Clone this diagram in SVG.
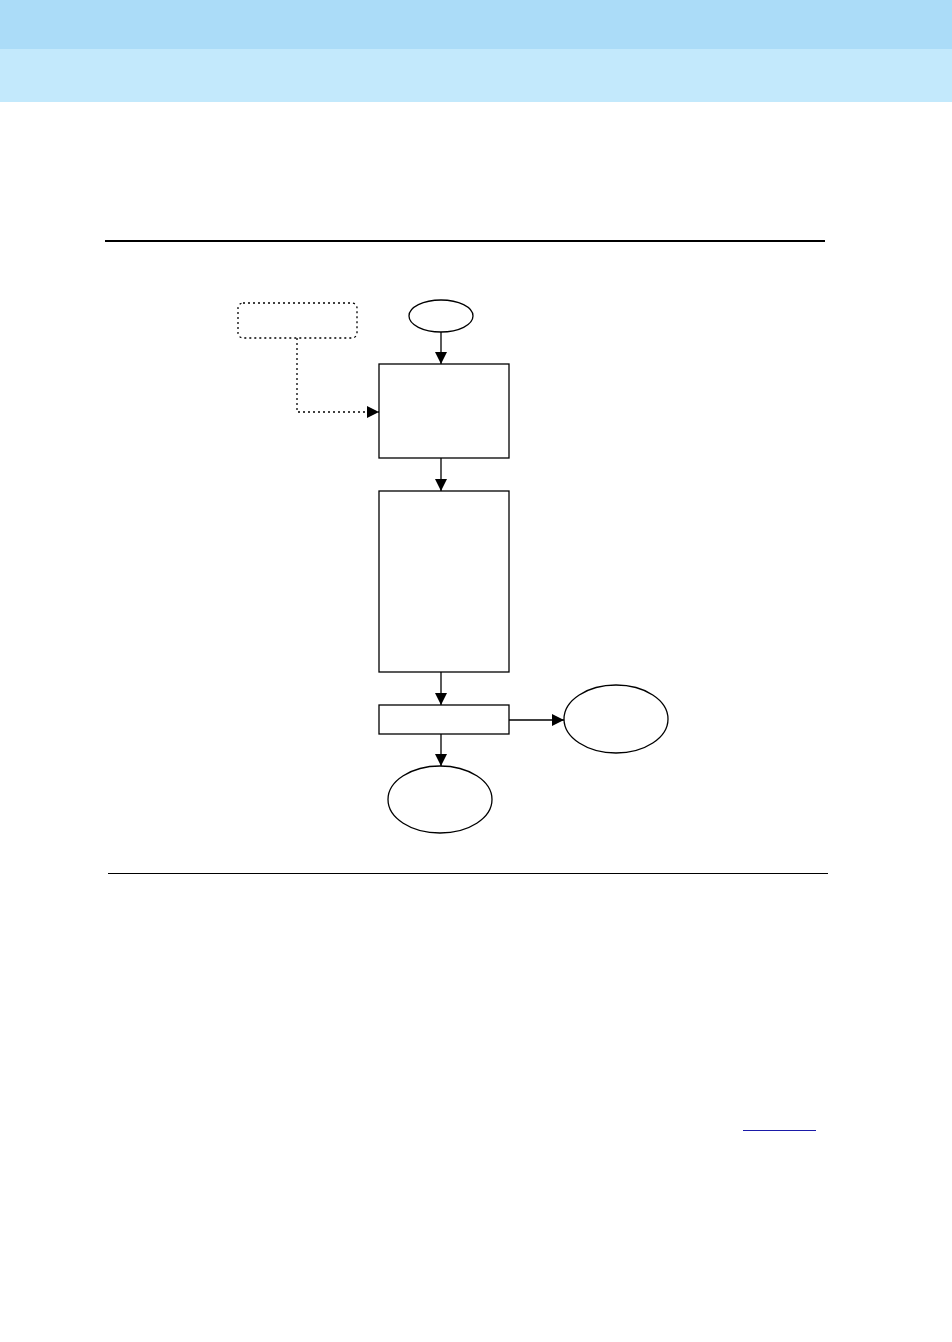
<svg xmlns="http://www.w3.org/2000/svg" width="952" height="1342" viewBox="0 0 952 1342">
<style>
.node{fill:#fff;stroke:#000;stroke-width:1.3}
.dot{fill:#fff;stroke:#000;stroke-width:1.3;stroke-dasharray:2 3}
.conn{fill:none;stroke:#000;stroke-width:1.3}
.dconn{fill:none;stroke:#000;stroke-width:1.3;stroke-dasharray:2 3}
</style>
<defs>
<marker id="arr" markerWidth="12" markerHeight="12" refX="12" refY="6" orient="auto" markerUnits="userSpaceOnUse">
<path d="M0,0 L12,6 L0,12 Z" fill="#000"/>
</marker>
</defs>
<rect x="0" y="0" width="952" height="1342" fill="#fff"/>
<g id="header">
<rect x="0" y="0" width="952" height="49" fill="#ABDCF8"/>
<rect x="0" y="49" width="952" height="53" fill="#C3E9FC"/>
</g>
<line x1="105" y1="241" x2="825" y2="241" stroke="#000" stroke-width="2"/>
<line x1="108" y1="873.5" x2="828" y2="873.5" stroke="#000" stroke-width="1"/>
<line x1="743" y1="1130.5" x2="816" y2="1130.5" stroke="#1a1aa8" stroke-width="1"/>
<g id="connectors">
<path class="dconn" d="M297,338 V412 H379" marker-end="url(#arr)"/>
<path class="conn" d="M441,332 V364" marker-end="url(#arr)"/>
<path class="conn" d="M441,458 V491" marker-end="url(#arr)"/>
<path class="conn" d="M441,672 V705" marker-end="url(#arr)"/>
<path class="conn" d="M509,720 H564" marker-end="url(#arr)"/>
<path class="conn" d="M441,734 V766" marker-end="url(#arr)"/>
</g>
<g id="external"><rect class="dot" x="238" y="303" width="119" height="35" rx="5"/></g>
<g id="start"><ellipse class="node" cx="441" cy="316" rx="32" ry="16"/></g>
<g id="step1"><rect class="node" x="379" y="364" width="130" height="94"/></g>
<g id="step2"><rect class="node" x="379" y="491" width="130" height="181"/></g>
<g id="step3"><rect class="node" x="379" y="705" width="130" height="29"/></g>
<g id="end-right"><ellipse class="node" cx="616" cy="719" rx="52" ry="34"/></g>
<g id="end-bottom"><ellipse class="node" cx="440" cy="799.5" rx="52" ry="33.5"/></g>
</svg>
